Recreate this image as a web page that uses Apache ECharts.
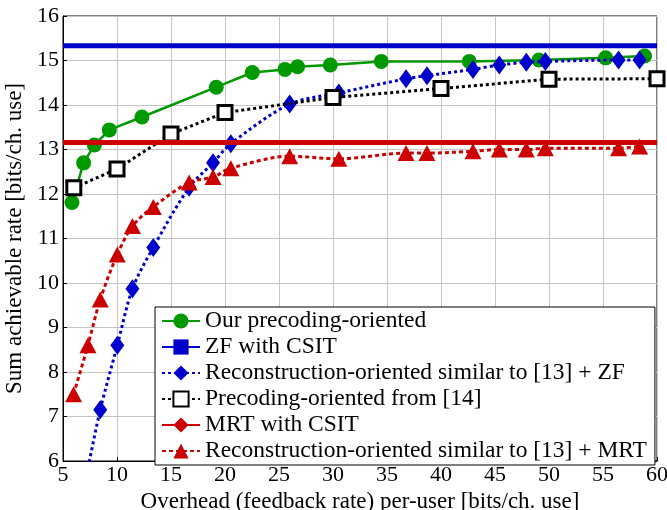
<!DOCTYPE html>
<html><head><meta charset="utf-8">
<script src="https://cdn.jsdelivr.net/npm/echarts@6/dist/echarts.min.js"></script>
<style>html,body{margin:0;padding:0;background:#fff}#c{width:667px;height:510px}</style>
</head><body><div id="c"></div>
<script>
// ---- data ----
const xOur = [5.83, 6.91, 7.90, 9.29, 12.31, 19.19, 22.53, 25.55, 26.72, 29.75, 34.47, 42.62, 49.07, 55.24, 58.85];
const yOur = [11.81, 12.70, 13.10, 13.44, 13.73, 14.40, 14.73, 14.80, 14.86, 14.90, 14.98, 14.98, 15.01, 15.06, 15.10];
const zfCsit = 15.33;
const mrtCsit = 13.16;
const xRec = [5.98, 7.31, 8.45, 10.03, 11.43, 13.36, 16.68, 18.89, 20.54, 25.99, 30.54, 36.76, 38.70, 42.96, 45.40, 47.90, 49.66, 56.44, 58.39];
const yRecZF = [4.40, 5.85, 7.15, 8.60, 9.87, 10.80, 12.15, 12.70, 13.13, 14.02, 14.27, 14.59, 14.66, 14.80, 14.90, 14.96, 14.98, 15.01, 15.01];
const yRecMRT = [7.50, 8.60, 9.63, 10.64, 11.28, 11.71, 12.26, 12.38, 12.58, 12.85, 12.79, 12.92, 12.92, 12.96, 13.00, 13.00, 13.03, 13.03, 13.07];
const xPre14 = [6, 10, 15, 20, 30, 40, 50, 60];
const yPre14 = [12.14, 12.56, 13.35, 13.83, 14.17, 14.37, 14.58, 14.59];
const xTicks = [5, 10, 15, 20, 25, 30, 35, 40, 45, 50, 55, 60];
const yTicks = [6, 7, 8, 9, 10, 11, 12, 13, 14, 15, 16];
const names = [
  'Our precoding-oriented',
  'ZF with CSIT',
  'Reconstruction-oriented similar to [13] + ZF',
  'Precoding-oriented from [14]',
  'MRT with CSIT',
  'Reconstruction-oriented similar to [13] + MRT'
];
// ---- build ----
const zip = (xs, ys) => xs.map((x, i) => [x, ys[i]]);
const FONT = 'Liberation Serif';
const GREEN = '#009900', BLUE = '#0000cc', RED = '#cc0000';
const chart = echarts.init(document.getElementById('c'), null, {renderer: 'canvas'});
chart.setOption({
  animation: false,
  textStyle: {fontFamily: FONT, color: '#000'},
  grid: {left: 63, right: 10, top: 16, bottom: 49, containLabel: false, outerBoundsMode: 'none',
    show: true, borderColor: '#000', borderWidth: 1, backgroundColor: 'transparent'},
  xAxis: {
    type: 'value', min: xTicks[0], max: xTicks[xTicks.length - 1], interval: 5,
    name: 'Overhead (feedback rate) per-user [bits/ch. use]', nameLocation: 'middle', nameGap: 22,
    nameTextStyle: {fontFamily: FONT, fontSize: 23, color: '#000'},
    axisLine: {show: true, lineStyle: {color: '#000', width: 1}},
    axisTick: {show: true, inside: true, length: 4, lineStyle: {color: '#000'}},
    axisLabel: {fontFamily: FONT, fontSize: 22, color: '#000', margin: 3},
    splitLine: {show: true, lineStyle: {color: '#c4c4c4', width: 1}}
  },
  yAxis: {
    type: 'value', min: yTicks[0], max: yTicks[yTicks.length - 1], interval: 1,
    name: 'Sum achievable rate [bits/ch. use]', nameLocation: 'middle', nameGap: 31,
    nameTextStyle: {fontFamily: FONT, fontSize: 23, color: '#000'},
    axisLine: {show: true, lineStyle: {color: '#000', width: 1}},
    axisTick: {show: true, inside: true, length: 4, lineStyle: {color: '#000'}},
    axisLabel: {fontFamily: FONT, fontSize: 22, color: '#000', margin: 4},
    splitLine: {show: true, lineStyle: {color: '#c4c4c4', width: 1}}
  },
  legend: {
    orient: 'vertical', left: 155, top: 307,
    backgroundColor: '#fff', borderColor: '#000', borderWidth: 1, borderRadius: 0,
    padding: [2, 8, 2, 6], itemGap: 2, itemWidth: 38, itemHeight: 19,
    textStyle: {fontFamily: FONT, fontSize: 23.5, color: '#000'},
    data: names
  },
  series: [
    {name: names[0], type: 'line', data: zip(xOur, yOur), symbol: 'circle', symbolSize: 15,
      lineStyle: {color: GREEN, width: 2.5}, itemStyle: {color: GREEN}, z: 2},
    {name: names[1], type: 'line', data: [[xTicks[0], zfCsit], [xTicks[xTicks.length - 1], zfCsit]], symbol: 'rect', symbolSize: 0,
      lineStyle: {color: BLUE, width: 5}, itemStyle: {color: BLUE}, z: 3},
    {name: names[2], type: 'line', data: zip(xRec, yRecZF), symbol: 'diamond', symbolSize: [14, 19], smooth: 0.3,
      lineStyle: {color: BLUE, width: 3, type: [3, 3]}, itemStyle: {color: BLUE}, z: 4},
    {name: names[3], type: 'line', data: zip(xPre14, yPre14), symbol: 'rect', symbolSize: 14,
      lineStyle: {color: '#000', width: 3, type: [3, 3]}, itemStyle: {color: '#fff', borderColor: '#000', borderWidth: 3}, z: 5},
    {name: names[4], type: 'line', data: [[xTicks[0], mrtCsit], [xTicks[xTicks.length - 1], mrtCsit]], symbol: 'diamond', symbolSize: 0,
      lineStyle: {color: RED, width: 5}, itemStyle: {color: RED}, z: 6},
    {name: names[5], type: 'line', data: zip(xRec, yRecMRT), symbol: 'triangle', symbolSize: [17, 16], smooth: 0.3,
      lineStyle: {color: RED, width: 3, type: [4, 3]}, itemStyle: {color: RED}, z: 7}
  ]
});
</script></body></html>
